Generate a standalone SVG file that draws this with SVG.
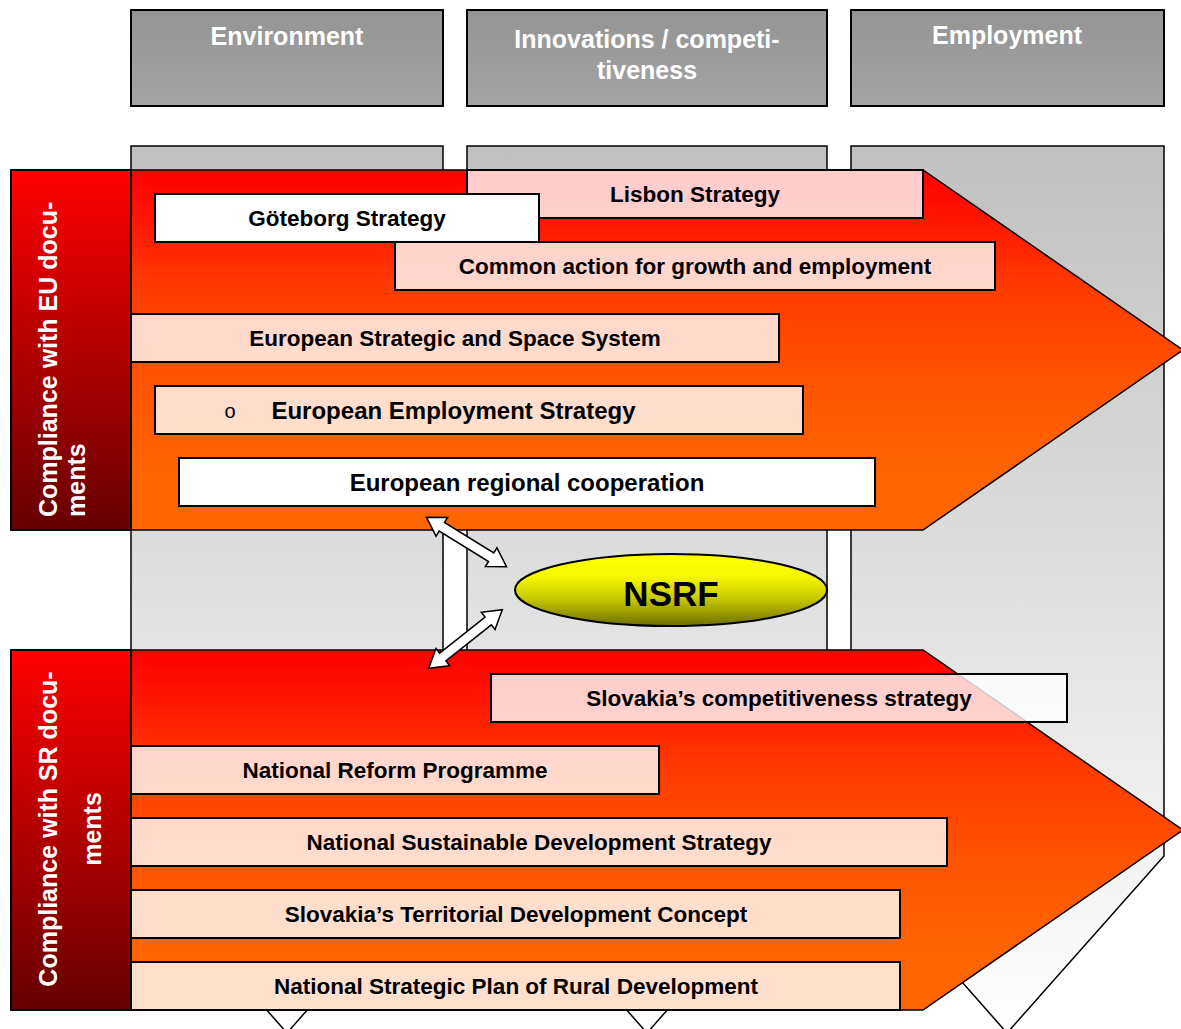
<svg xmlns="http://www.w3.org/2000/svg" xmlns:xlink="http://www.w3.org/1999/xlink" width="1181" height="1029" viewBox="0 0 1181 1029">
<defs>
<linearGradient id="gCol" gradientUnits="userSpaceOnUse" x1="0" y1="146" x2="0" y2="1033"><stop offset="0" stop-color="#c0c0c0"/><stop offset="1" stop-color="#ffffff"/></linearGradient>
<linearGradient id="gHead" x1="0" y1="0" x2="0" y2="1"><stop offset="0" stop-color="#949494"/><stop offset="1" stop-color="#a4a4a4"/></linearGradient>
<linearGradient id="gArrow" x1="0" y1="0" x2="0" y2="1"><stop offset="0" stop-color="#ff0000"/><stop offset="0.15" stop-color="#ff1800"/><stop offset="0.33" stop-color="#ff3c00"/><stop offset="0.6" stop-color="#ff5500"/><stop offset="0.85" stop-color="#ff6400"/><stop offset="1" stop-color="#ff6600"/></linearGradient>
<linearGradient id="gLabel" x1="0" y1="0" x2="0" y2="1"><stop offset="0" stop-color="#ff0000"/><stop offset="1" stop-color="#660000"/></linearGradient>
<linearGradient id="gEll" x1="0" y1="0" x2="0" y2="1"><stop offset="0" stop-color="#ffff00"/><stop offset="0.3" stop-color="#f8f800"/><stop offset="0.6" stop-color="#cccc00"/><stop offset="1" stop-color="#6f6f00"/></linearGradient>
<path id="dbl" d="M-47,0 L-29,-11 L-29,-5 L29,-5 L29,-11 L47,0 L29,11 L29,5 L-29,5 L-29,11 Z"/>
<style>
.col{fill:url(#gCol);stroke:#000;stroke-width:1.5}
.hdr{fill:url(#gHead);stroke:#000;stroke-width:2}
.htxt{font-family:"Liberation Sans",Arial,sans-serif;font-weight:bold;font-size:25px;fill:#fff;text-anchor:middle}
.big{fill:url(#gArrow);stroke:#000;stroke-width:1.5}
.lab{fill:url(#gLabel);stroke:#000;stroke-width:2}
.ltxt{font-family:"Liberation Sans",Arial,sans-serif;font-weight:bold;font-size:25px;fill:#fff}
.bx{fill:#fff;fill-opacity:0.8;stroke:#000;stroke-width:2}
.bw{fill:#fff;stroke:#000;stroke-width:2}
.btxt{font-family:"Liberation Sans",Arial,sans-serif;font-weight:bold;font-size:22.5px;fill:#000;text-anchor:middle}
.big24{font-size:24px}
.dbl{fill:#fff;stroke:#000;stroke-width:1.5}
</style>
</defs>

<g id="columns">
<path class="col" d="M131,146 H443 V856 L287,1033 L131,856 Z"/>
<path class="col" d="M467,146 H827 V829 L647,1033 L467,829 Z"/>
<path class="col" d="M851,146 H1164 V856 L1007,1033 L851,856 Z"/>
</g>

<g id="hdr-environment">
<rect class="hdr" x="131" y="10" width="312" height="96"/>
<text class="htxt" x="287" y="45">Environment</text>
</g>
<g id="hdr-innovations">
<rect class="hdr" x="467" y="10" width="360" height="96"/>
<text class="htxt" x="647" y="48">Innovations / competi-</text>
<text class="htxt" x="647" y="79">tiveness</text>
</g>
<g id="hdr-employment">
<rect class="hdr" x="851" y="10" width="313" height="96"/>
<text class="htxt" x="1007" y="44">Employment</text>
</g>

<g id="eu-arrow">
<path class="big" d="M131,170 H923 L1183,350 L923,530 H131 Z"/>
</g>
<g id="eu-label">
<rect class="lab" x="11" y="170" width="120" height="360"/>
<text class="ltxt" transform="translate(57,517) rotate(-90)"><tspan x="0" y="0">Compliance with EU docu-</tspan><tspan x="0" y="28">ments</tspan></text>
</g>
<g id="lisbon">
<rect class="bx" x="467" y="170" width="456" height="48"/>
<text class="btxt" x="695" y="202">Lisbon Strategy</text>
</g>
<g id="goteborg">
<rect class="bw" x="155" y="194" width="384" height="48"/>
<text class="btxt" x="347" y="226">Göteborg Strategy</text>
</g>
<g id="common-action">
<rect class="bx" x="395" y="242" width="600" height="48"/>
<text class="btxt" x="695" y="274">Common action for growth and employment</text>
</g>
<g id="essp">
<rect class="bx" x="131" y="314" width="648" height="48"/>
<text class="btxt" x="455" y="346">European Strategic and Space System</text>
</g>
<g id="ees">
<rect class="bx" x="155" y="386" width="648" height="48"/>
<text x="230" y="418" style="font-family:'Liberation Sans',Arial,sans-serif;font-size:20px;fill:#000;text-anchor:middle">o</text>
<text class="btxt big24" x="453.5" y="419">European Employment Strategy</text>
</g>
<g id="erc">
<rect class="bw" x="179" y="458" width="696" height="48"/>
<text class="btxt big24" x="527" y="491">European regional cooperation</text>
</g>

<g id="sr-arrow">
<path class="big" d="M131,650 H923 L1183,830 L923,1010 H131 Z"/>
</g>
<g id="sr-label">
<rect class="lab" x="11" y="650" width="120" height="360"/>
<text class="ltxt" transform="translate(57,829) rotate(-90)" text-anchor="middle"><tspan x="0" y="0">Compliance with SR docu-</tspan><tspan x="0" y="44">ments</tspan></text>
</g>
<g id="competitiveness">
<rect class="bx" x="491" y="674" width="576" height="48"/>
<text class="btxt" x="779" y="706">Slovakia’s competitiveness strategy</text>
</g>
<g id="nrp">
<rect class="bx" x="131" y="746" width="528" height="48"/>
<text class="btxt" x="395" y="778">National Reform Programme</text>
</g>
<g id="nsds">
<rect class="bx" x="131" y="818" width="816" height="48"/>
<text class="btxt" x="539" y="850">National Sustainable Development Strategy</text>
</g>
<g id="tdc">
<rect class="bx" x="131" y="890" width="769" height="48"/>
<text class="btxt" x="516" y="922">Slovakia’s Territorial Development Concept</text>
</g>
<g id="nspr">
<rect class="bx" x="131" y="962" width="769" height="48"/>
<text class="btxt" x="516" y="994">National Strategic Plan of Rural Development</text>
</g>

<g id="nsrf">
<ellipse cx="671" cy="590" rx="156" ry="36" fill="url(#gEll)" stroke="#000" stroke-width="2"/>
<text x="671" y="606" style="font-family:'Liberation Sans',Arial,sans-serif;font-weight:bold;font-size:35px;fill:#000;text-anchor:middle">NSRF</text>
</g>

<g id="connectors">
<use xlink:href="#dbl" class="dbl" transform="translate(466.5,542) rotate(31.7)"/>
<use xlink:href="#dbl" class="dbl" transform="translate(465.5,639) rotate(-38.5)"/>
</g>
</svg>
